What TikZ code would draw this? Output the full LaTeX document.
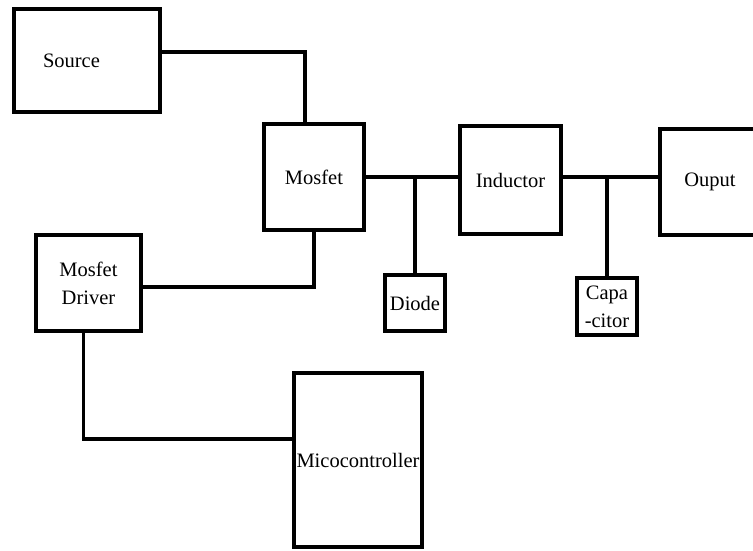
\documentclass[tikz,border=0pt]{standalone}
\usepackage{fontspec}
\setmainfont{Liberation Serif}
\newfontfamily\blockfont{Liberation Serif}
\usepackage{tikz}
\usetikzlibrary{positioning}

\tikzset{
  block/.style={rectangle, draw=black, line width=3.5pt, inner sep=3pt, align=center},
  wire/.style={draw=black, line width=3.5pt}
}

\begin{document}
\begin{tikzpicture}[x=1pt, y=1pt, font=\blockfont\fontsize{20.5}{28}\selectfont]
%
\useasboundingbox (0,0) rectangle (753,-551);

%%% nodes and boxes

%%% SOURCE, SWITCH, DRIVER
\node [block, minimum width=146pt, minimum height=103pt, text width=88pt, align=left] (source) at (87,-60.5) {Source};
\node [block, minimum width=100pt, minimum height=106pt] (mosfet) at (314,-177) {Mosfet};
\node [block, minimum width=105pt, minimum height=96pt] (driver) at (88.5,-283) {Mosfet\\Driver};

%%% FILTER
\node [block, minimum width=101pt, minimum height=108pt] (inductor) at (510.5,-180) {Inductor};
\node [block, minimum width=60pt, minimum height=56pt] (diode) at (415,-303) {Diode};
\node [block, minimum width=60pt, minimum height=57pt, inner sep=1pt] (capacitor) at (607,-306.5) {Capa\\-citor};

%%% OUTPUT
\node [block, minimum width=100pt, minimum height=106pt] (output) at (710,-182) {Ouput};

%%% CONTROLLER
\node [block, minimum width=128pt, minimum height=174pt, inner sep=1pt] (controller) at (358,-460) {Micocontroller};

%%% connections, wires

\coordinate (j-diode) at (diode.north |- mosfet.east);
\coordinate (j-capacitor) at (capacitor.north |- mosfet.east);

\draw [wire] ([yshift=8.5pt]source.east) -| ([xshift=-9pt]mosfet.north);
\draw [wire] (mosfet.east) -- (mosfet.east -| inductor.west);
\draw [wire] (inductor.east |- mosfet.east) -- (output.west |- mosfet.east);
\draw [wire] (j-diode) -- (diode.north);
\draw [wire] (j-capacitor) -- (capacitor.north);
\draw [wire] (mosfet.south) |- ([yshift=-4pt]driver.east);
\draw [wire] ([xshift=-5pt]driver.south) |- ([yshift=21pt]controller.west);

\end{tikzpicture}
\end{document}
